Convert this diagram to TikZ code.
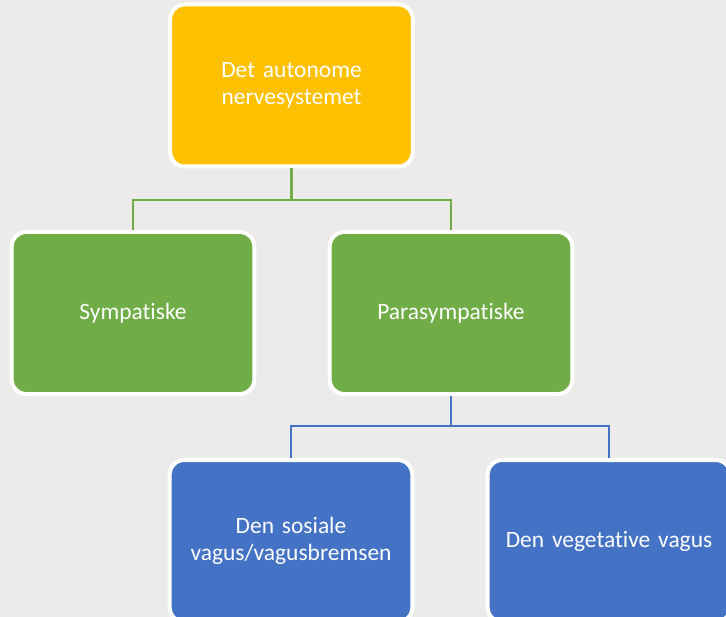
\documentclass[tikz,border=0pt]{standalone}
\usepackage{fontspec}
\setmainfont{Carlito}[Ligatures=NoCommon]
\definecolor{bgcol}{HTML}{EDEBE9}
\definecolor{topcol}{HTML}{FFC000}
\definecolor{midcol}{HTML}{70AD47}
\definecolor{lowcol}{HTML}{4472C4}
\tikzset{
  box/.style={draw=white, line width=3pt, rounded corners=11pt,
    minimum width=182pt, minimum height=121.5pt, inner sep=0pt,
    text=white, align=center, text width=175pt,
    font=\fontsize{17.6}{20.3}\selectfont},
  topbox/.style={box, fill=topcol},
  midbox/.style={box, fill=midcol},
  lowbox/.style={box, fill=lowcol},
  gline/.style={draw=midcol, line width=1.6pt},
  bline/.style={draw=lowcol, line width=1.6pt}
}
\begin{document}
\begin{tikzpicture}[x=0.75pt, y=-0.75pt]
  % canvas
  \path[use as bounding box, fill=bgcol] (0,0) rectangle (726,617);
  \clip (0,0) rectangle (726,617);

  % junction levels of the two trees
  \coordinate (jg) at (0,200);
  \coordinate (jb) at (0,426);

  % the boxes
  \path (291.5,85.5) node[topbox] (top) {Det autonome\\nervesystemet};
  \path (133,313) node[midbox] (sym) {Sympatiske};
  \path (451,313) node[midbox] (para) {Parasympatiske};
  \path (291,541) node[lowbox] (sos) {Den sosiale\\vagus/vagusbremsen};
  \path (609,541) node[lowbox] (veg) {Den vegetative vagus};

  % connectors
  \draw[gline] (top.south) -- (top.south |- jg) coordinate (j1);
  \draw[gline] (sym.north) |- (j1) -| (para.north);
  \draw[bline] (para.south) -- (para.south |- jb) coordinate (j2);
  \draw[bline] (sos.north) |- (j2) -| (veg.north);
\end{tikzpicture}
\end{document}
